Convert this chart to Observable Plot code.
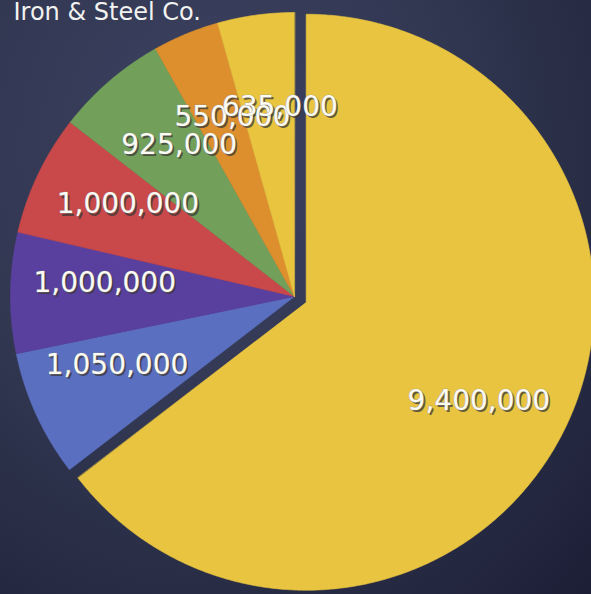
<!DOCTYPE html>
<html>
<head>
<meta charset="utf-8">
<script src="https://cdn.jsdelivr.net/npm/d3@7"></script>
<script src="https://cdn.jsdelivr.net/npm/@observablehq/plot@0.6"></script>
<style>
  html, body { margin: 0; padding: 0; background: #2b3049; }
  #chart { width: 591px; height: 594px; overflow: hidden; }
  g[aria-label="title"] text { letter-spacing: 2.3px; }
</style>
</head>
<body>
<div id="chart"></div>
<script>
// ---- data ----
const categories = ["A", "B", "C", "D", "E", "F", "G"];
const values = [9400000, 1050000, 1000000, 1000000, 925000, 550000, 635000];
const valueLabels = ["9,400,000", "1,050,000", "1,000,000", "1,000,000", "925,000", "550,000", "635,000"];
const sliceColors = ["#e8c440", "#5b6fc0", "#5a409e", "#c9484a", "#72a05a", "#dd8f2e", "#e9c43f"];
const explodedSlice = "A";
const titleText = "Iron & Steel Co.";

// ---- layout constants ----
const W = 591, H = 594;
const CX = 294, CY = 296;      // centre of the pie (pixel units of the x/y scales)
const R = 284, R_BIG = 288;    // radius
const EXPLODE = 13;            // offset of the exploded slice
const LABEL_K = 0.67, LABEL_K_BIG = 0.69;
const LABEL_TURN = 0.06;       // small clockwise turn of the label anchors

const arcs = d3.pie().sort(null).value(d => d)(values);

const polys = [];
const labelPts = [];
arcs.forEach((a, i) => {
  const cat = categories[i];
  const mid = (a.startAngle + a.endAngle) / 2;
  const big = cat === explodedSlice;
  const ex = big ? EXPLODE : 0;
  const r = big ? R_BIG : R;
  const cx = CX + ex * Math.sin(mid);
  const cy = CY - ex * Math.cos(mid);
  polys.push({cat, x: cx, y: cy, color: sliceColors[i]});
  const n = Math.max(8, Math.ceil((a.endAngle - a.startAngle) / (Math.PI / 360)));
  for (let k = 0; k <= n; k++) {
    const t = a.startAngle + (a.endAngle - a.startAngle) * k / n;
    polys.push({cat, x: cx + r * Math.sin(t), y: cy - r * Math.cos(t), color: sliceColors[i]});
  }
  const lk = big ? LABEL_K_BIG : LABEL_K;
  const la = mid + LABEL_TURN;
  labelPts.push({label: valueLabels[i], x: cx + lk * r * Math.sin(la), y: cy - lk * r * Math.cos(la)});
});

const plot = Plot.plot({
  width: W,
  height: H,
  margin: 0,
  x: {domain: [0, W], axis: null},
  y: {domain: [0, H], reverse: true, axis: null},
  color: {type: "identity"},
  style: {
    background: "radial-gradient(ellipse at 35% 25%, #3c4261 0%, #323852 45%, #262a43 75%, #1c1e36 100%)",
    overflow: "hidden"
  },
  marks: [
    Plot.line(polys, {x: "x", y: "y", z: "cat", fill: "color", stroke: "color", strokeWidth: 0.6, curve: "linear-closed"}),
    Plot.text(labelPts, {x: "x", y: "y", text: "label", dx: 1.8, dy: 2.2, fill: "#3b3836", fillOpacity: 0.75,
      fontSize: 28, fontFamily: "DejaVu Sans", fontWeight: "normal", ariaLabel: "value shadows"}),
    Plot.text(labelPts, {x: "x", y: "y", text: "label", fill: "#fbfbf4", stroke: "#8f8f8f", strokeWidth: 0.6,
      fontSize: 28, fontFamily: "DejaVu Sans", fontWeight: "normal", ariaLabel: "values"}),
    Plot.text([titleText], {frameAnchor: "top-left", text: d => d, dx: 13, dy: 19, lineAnchor: "bottom",
      textAnchor: "start", fill: "#f2f2f0", fontSize: 24, fontFamily: "DejaVu Sans", ariaLabel: "title"})
  ]
});
document.getElementById("chart").appendChild(plot);
</script>
</body>
</html>
